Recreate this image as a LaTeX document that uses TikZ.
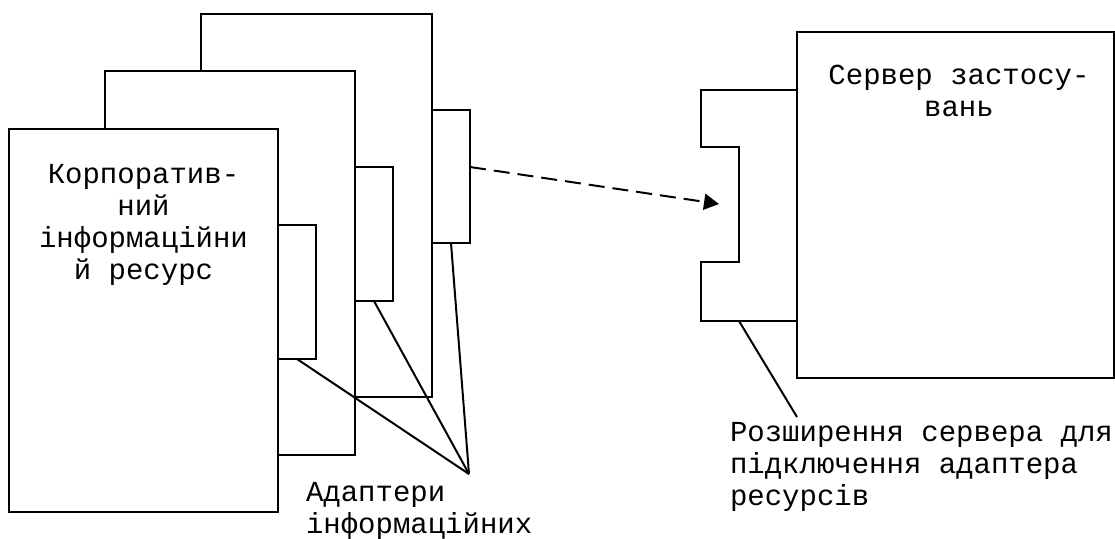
\documentclass[tikz,border=0pt]{standalone}
\usepackage{fontspec}
\setmainfont{Liberation Mono}
\usetikzlibrary{arrows.meta,fit,calc}
\begin{document}
\begin{tikzpicture}[x=0.5pt,y=-0.5pt,
  outline/.style={draw=black, line width=1pt, fill=white, inner sep=0pt, outer sep=0pt},
  link/.style={draw=black, line width=1pt},
  label/.style={font=\fontsize{14.5pt}{16pt}\selectfont, inner sep=0pt, outer sep=0pt}]
\useasboundingbox (0,0) rectangle (1115,538);
\clip (0,0) rectangle (1115,538);

% stacked resource pages, back to front
\node[outline, fit={(201,14) (432,397)}] (page3) {};
\node[outline, fit={(105,71) (355,455)}] (page2) {};
\node[outline, fit={(9,129) (278,512)}] (page1) {};

% adapters attached to the pages
\node[outline, fit={(278,225) (316,359)}] (ad1) {};
\node[outline, fit={(355,167) (393,301)}] (ad2) {};
\node[outline, fit={(432,110) (470,243)}] (ad3) {};

% application server with its notched extension
\node[outline, fit={(797,32) (1114,378)}] (server) {};
\draw[link, line join=miter] (797,90) -- (701,90) -- (701,147) -- (739,147)
  -- (739,262) -- (701,262) -- (701,321) -- (797,321);
\coordinate (notch) at (719,204);
\coordinate (extfoot) at (739,321);
\coordinate (extlabel) at (797,417);
\coordinate (adtip) at (469,474);

% callout lines
\draw[link] (ad1.south) -- (adtip);
\draw[link] (ad2.south) -- (adtip);
\draw[link] (ad3.south) -- (adtip);
\draw[link] (extfoot) -- (extlabel);

% plug-in arrow
\draw[link, dash pattern=on 8pt off 4pt, -{Triangle[length=7.5pt,width=8pt]}]
  ([yshift=4.75pt]ad3.east) -- (notch);

% texts (the base anchor sits on the last line)
\node[label, anchor=base, align=center] (restext) at (143.5,279)
  {Корпоратив-\\ний\\інформаційни\\й ресурс};
\node[label, anchor=base, align=center] (srvtext) at (959,116)
  {Сервер застосу-\\вань};
\node[label, anchor=base west, align=left] (adtext) at (306,533)
  {Адаптери\\інформаційних};
\node[label, anchor=base west, align=left] (exttext) at (730,505)
  {Розширення сервера для\\підключення адаптера\\ресурсів};
\end{tikzpicture}
\end{document}
